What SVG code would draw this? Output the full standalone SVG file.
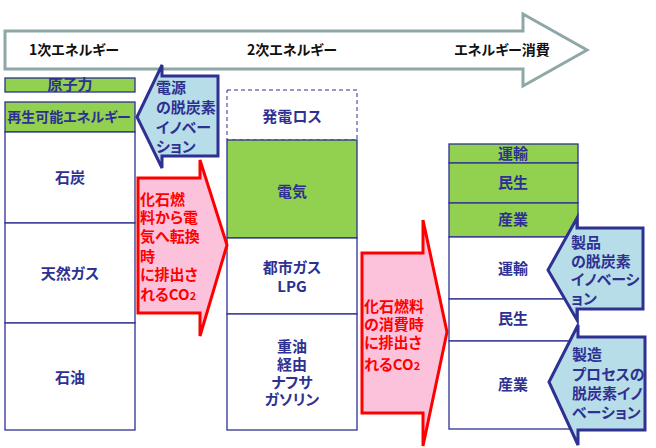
<svg xmlns="http://www.w3.org/2000/svg" width="656" height="448" viewBox="0 0 656 448">
<style>
  text { font-family: "Noto Sans CJK JP", "Noto Sans", sans-serif; font-weight: 700; font-size: 15px; font-feature-settings: "palt"; }
  .nv { fill: #2e3192; text-anchor: middle; }
  .hd { fill: #111111; text-anchor: middle; font-size: 14px; }
  .rd { fill: #ff0000; }
  .bl { fill: #2e3192; }
  .box { fill: #ffffff; stroke: #2e3192; stroke-width: 1.3; }
  .grn { fill: #92d050; stroke: #2e3192; stroke-width: 1.3; }
  .dash { fill: #ffffff; stroke: #2e3192; stroke-width: 1; stroke-dasharray: 4 3; }
  .rarrow { fill: #fcc2dc; stroke: #ff0000; stroke-width: 3; stroke-linejoin: miter; }
  .barrow { fill: #b7dde8; stroke: #2e3192; stroke-width: 3; stroke-linejoin: miter; }
  .sub { font-size: 11px; }
</style>
<rect x="0" y="0" width="656" height="448" fill="#ffffff"/>

<g id="flow-arrow">
  <polygon points="5,31 523,31 523,14 587,50 523,86 523,69 5,69" fill="#ffffff" stroke="#8ea8a8" stroke-width="3"/>
  <text class="hd" x="74" y="55">1次エネルギー</text>
  <text class="hd" x="292" y="55">2次エネルギー</text>
  <text class="hd" x="502" y="55">エネルギー消費</text>
</g>

<g id="primary">
  <rect class="grn" x="5" y="78" width="130" height="14"/>
  <text class="nv" x="70" y="90">原子力</text>
  <rect class="grn" x="5" y="102" width="130" height="30"/>
  <text class="nv" x="69" y="122" style="font-size:14px">再生可能エネルギー</text>
  <rect class="box" x="5" y="132" width="130" height="91"/>
  <text class="nv" x="70" y="183">石炭</text>
  <rect class="box" x="5" y="223" width="130" height="100"/>
  <text class="nv" x="70" y="279">天然ガス</text>
  <rect class="box" x="5" y="323" width="130" height="107"/>
  <text class="nv" x="70" y="383">石油</text>
</g>

<g id="secondary">
  <rect class="dash" x="227" y="90" width="130" height="50"/>
  <text class="nv" x="292" y="122">発電ロス</text>
  <rect class="grn" x="227" y="140" width="130" height="98"/>
  <text class="nv" x="292" y="197">電気</text>
  <rect class="box" x="227" y="238" width="130" height="76"/>
  <text class="nv" x="292" y="273">都市ガス<tspan x="292" dy="19">LPG</tspan></text>
  <rect class="box" x="227" y="314" width="130" height="116"/>
  <text class="nv" x="292" y="352">重油<tspan x="292" dy="18">経由</tspan><tspan x="292" dy="18">ナフサ</tspan><tspan x="292" dy="17">ガソリン</tspan></text>
</g>

<g id="consumption">
  <rect class="grn" x="449" y="144" width="129" height="19"/>
  <text class="nv" x="513" y="159">運輸</text>
  <rect class="grn" x="449" y="163" width="129" height="40"/>
  <text class="nv" x="513" y="188">民生</text>
  <rect class="grn" x="449" y="203" width="129" height="34"/>
  <text class="nv" x="513" y="225">産業</text>
  <rect class="box" x="449" y="237" width="129" height="62"/>
  <text class="nv" x="513" y="274">運輸</text>
  <rect class="box" x="449" y="299" width="129" height="42"/>
  <text class="nv" x="513" y="324">民生</text>
  <rect class="box" x="449" y="341" width="129" height="88"/>
  <text class="nv" x="513" y="390">産業</text>
</g>

<g id="co2-conversion">
  <polygon class="rarrow" points="138,178 200,178 200,160 227,245 200,336 200,313 138,313"/>
  <text class="rd" x="140" y="205">化石燃<tspan x="140" dy="18">料から電</tspan><tspan x="140" dy="19">気へ転換</tspan><tspan x="140" dy="20">時</tspan><tspan x="140" dy="18">に排出さ</tspan><tspan x="140" dy="20">れるCO</tspan><tspan class="sub">2</tspan></text>
</g>

<g id="power-innovation">
  <polygon class="barrow" points="137,117 162,65 162,76 218,76 218,156 162,156 162,168"/>
  <text class="bl" x="156" y="93">電源<tspan x="156" dy="20">の脱炭素</tspan><tspan x="156" dy="20">イノベー</tspan><tspan x="156" dy="19">ション</tspan></text>
</g>

<g id="co2-consumption">
  <polygon class="rarrow" points="362,253 423,253 423,220 447,332 423,446 423,413 362,413"/>
  <text class="rd" x="364" y="312">化石燃料<tspan x="364" dy="18">の消費時</tspan><tspan x="364" dy="18">に排出さ</tspan><tspan x="364" dy="22">れるCO</tspan><tspan class="sub">2</tspan></text>
</g>

<g id="product-innovation">
  <polygon class="barrow" points="548,270 577,218 577,228 643,228 643,309 577,309 577,320"/>
  <text class="bl" x="571" y="248">製品<tspan x="571" dy="19">の脱炭素</tspan><tspan x="571" dy="18">イノベーシ</tspan><tspan x="571" dy="19">ョン</tspan></text>
</g>

<g id="process-innovation">
  <polygon class="barrow" points="549,382 578,325 578,337 645,337 645,430 578,430 578,445"/>
  <text class="bl" x="572" y="360">製造<tspan x="572" dy="20">プロセスの</tspan><tspan x="572" dy="19">脱炭素イノ</tspan><tspan x="572" dy="19">ベーション</tspan></text>
</g>
</svg>
